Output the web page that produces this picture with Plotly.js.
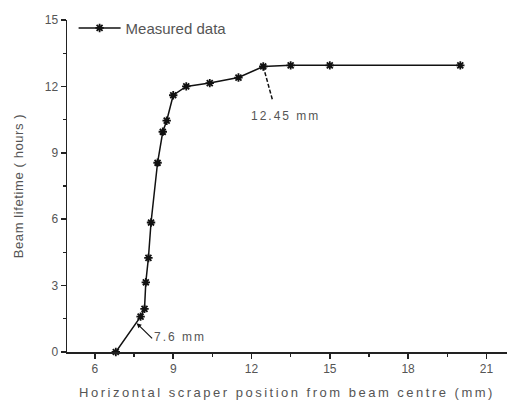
<!DOCTYPE html>
<html><head><meta charset="utf-8">
<script src="https://cdn.plot.ly/plotly-3.0.1.min.js"></script>
<style>
html,body{margin:0;padding:0;background:#fff}#chart{width:510px;height:407px}
#chart .xtitle{letter-spacing:2.5px}
#chart .ytitle{letter-spacing:0.6px}
#chart .annotation-text{letter-spacing:2px}
</style>
</head><body><div id="chart"></div>
<script>
const positions = [6.8, 7.75, 7.9, 7.95, 8.05, 8.15, 8.4, 8.6, 8.75, 9.0, 9.5, 10.4, 11.5, 12.45, 13.5, 15.0, 20.0];
const lifetimes = [0, 1.6, 1.95, 3.15, 4.25, 5.85, 8.55, 9.95, 10.45, 11.6, 12.0, 12.15, 12.4, 12.9, 12.95, 12.95, 12.95];
const xTicks = [6, 9, 12, 15, 18, 21];
const yTicks = [0, 3, 6, 9, 12, 15];
const seriesName = 'Measured data';
const markA = {x: 7.6, y: 1.3, label: '7.6 mm', lx: 9.25, ly: 0.68, tx: 8.25, ty: 0.55};
const markB = {x: 12.45, y: 12.9, label: '12.45 mm', lx: 13.3, ly: 10.66, ex: 12.8, ey: 11.4};

const font = {family: 'Liberation Sans, Arial, sans-serif', size: 12, color: '#555'};
const trace = {
  x: positions, y: lifetimes, name: seriesName, type: 'scatter', mode: 'lines+markers',
  line: {color: '#111', width: 1.5},
  marker: {symbol: 'asterisk-open', size: 7, color: '#111', line: {color: '#111', width: 1.8}},
  cliponaxis: false
};
const axisBase = {
  showline: true, linecolor: '#222', linewidth: 1.5, showgrid: false, zeroline: false,
  ticks: 'outside', ticklen: 5, tickwidth: 1.5, tickcolor: '#222',
  tickfont: font, mirror: false
};
const layout = {
  width: 510, height: 407,
  margin: {l: 67, r: 3, t: 20, b: 55},
  paper_bgcolor: '#fff', plot_bgcolor: '#fff',
  showlegend: true,
  legend: {x: 0.015, y: 1.025, xanchor: 'left', yanchor: 'top', bgcolor: 'rgba(0,0,0,0)',
    font: {family: 'Liberation Sans, Arial, sans-serif', size: 15, color: '#555'}, itemwidth: 42},
  xaxis: Object.assign({}, axisBase, {
    range: [4.93, 21.79], tickvals: xTicks, ticktext: xTicks.map(String),
    minor: {dtick: 1.5, tick0: 0, ticks: 'outside', ticklen: 3, tickwidth: 1.2, tickcolor: '#222'},
    title: {text: 'Horizontal scraper position from beam centre (mm)', standoff: 13,
      font: {family: 'Liberation Sans, Arial, sans-serif', size: 13, color: '#555'}}
  }),
  yaxis: Object.assign({}, axisBase, {
    range: [0, 15], tickvals: yTicks, ticktext: yTicks.map(String),
    minor: {dtick: 1.5, tick0: 0, ticks: 'outside', ticklen: 3, tickwidth: 1.2, tickcolor: '#222'},
    title: {text: 'Beam lifetime ( hours )', standoff: 18,
      font: {family: 'Liberation Sans, Arial, sans-serif', size: 13, color: '#555'}}
  }),
  shapes: [
    {type: 'line', xref: 'x', yref: 'y', x0: markB.x, y0: markB.y, x1: markB.ex, y1: markB.ey,
     line: {color: '#111', width: 1.5, dash: '4px,2px'}}
  ],
  annotations: [
    {x: markA.x, y: markA.y, ax: markA.tx, ay: markA.ty, axref: 'x', ayref: 'y', xref: 'x', yref: 'y',
     text: '', showarrow: true, arrowhead: 2, arrowsize: 0.8, arrowwidth: 1.2, arrowcolor: '#111'},
    {x: markA.lx, y: markA.ly, xref: 'x', yref: 'y', text: markA.label, showarrow: false, font: font},
    {x: markB.lx, y: markB.ly, xref: 'x', yref: 'y', text: markB.label, showarrow: false, font: font}
  ]
};
Plotly.newPlot('chart', [trace], layout, {displayModeBar: false, staticPlot: true});
</script></body></html>
